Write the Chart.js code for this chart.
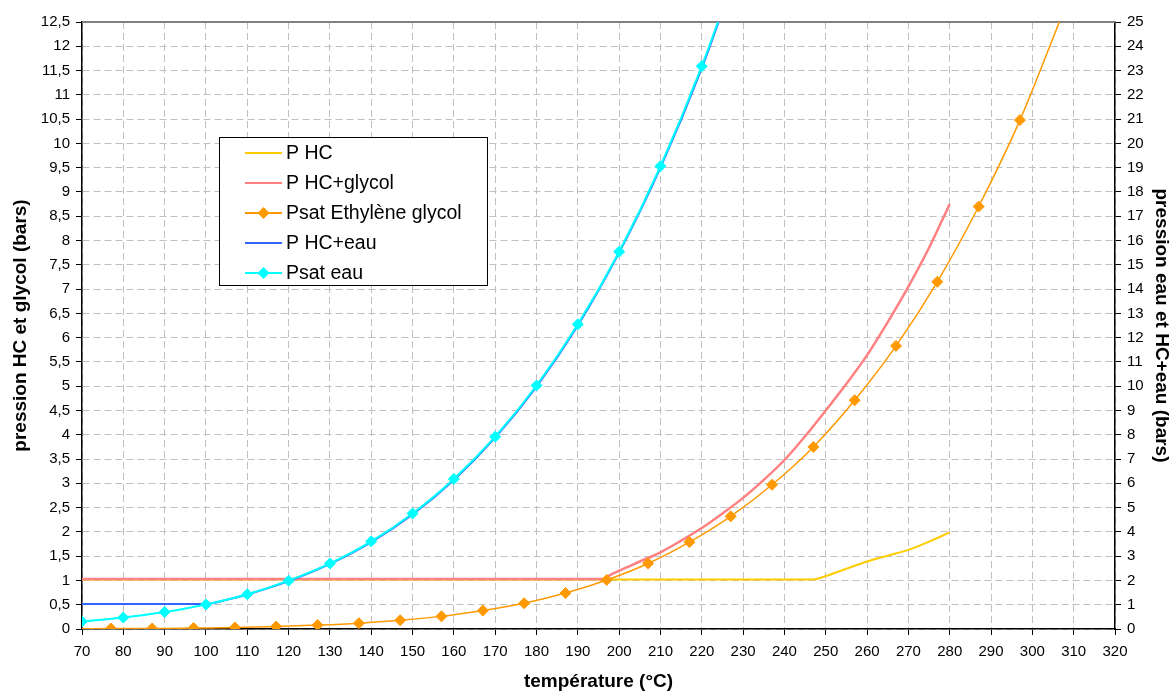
<!DOCTYPE html>
<html>
<head>
<meta charset="utf-8">
<script src="https://cdn.jsdelivr.net/npm/chart.js@4.4.1/dist/chart.umd.min.js"></script>
<style>
  body { margin: 0; background: #fff; }
  #wrap { width: 1174px; height: 693px; position: relative; }
</style>
</head>
<body>
<div id="wrap"><canvas id="pressure-chart"></canvas></div>
<script>
// températures (°C) et pressions (bars)
var hcTemp = [70, 247, 250, 255, 260, 265, 270, 275, 280];
var hcPres = [1.02, 1.02, 1.09, 1.24, 1.39, 1.51, 1.63, 1.80, 1.99];

var hcGlycolTemp = [70, 196, 198, 200, 205, 210, 215, 220, 225, 230, 235, 240, 245, 250, 255, 260, 265, 270, 275, 280];
var hcGlycolPres = [1.03, 1.03, 1.12, 1.20, 1.39, 1.58, 1.82, 2.08, 2.38, 2.70, 3.07, 3.48, 3.97, 4.50, 5.05, 5.64, 6.32, 7.05, 7.85, 8.75];

var glycolTemp = [70, 77, 87, 97, 107, 117, 127, 137, 147, 157, 167, 177, 187, 197, 207, 217, 227, 237, 247, 257, 267, 277, 287, 297, 307];
var glycolPres = [0.005, 0.01, 0.01, 0.02, 0.03, 0.05, 0.08, 0.12, 0.18, 0.26, 0.38, 0.53, 0.74, 1.01, 1.35, 1.79, 2.32, 2.97, 3.75, 4.71, 5.83, 7.15, 8.70, 10.48, 12.6];

// right axis (eau)
var hcWaterTemp = [70, 100, 105, 110, 120, 130, 140, 150, 160, 170, 180, 190, 200, 210, 220, 230];
var hcWaterPres = [1.03, 1.03, 1.2, 1.42, 1.97, 2.68, 3.58, 4.72, 6.14, 7.88, 9.98, 12.5, 15.5, 19.0, 23.1, 27.9];

var waterTemp = [70, 80, 90, 100, 110, 120, 130, 140, 150, 160, 170, 180, 190, 200, 210, 220, 230];
var waterPres = [0.31, 0.47, 0.70, 1.01, 1.43, 1.99, 2.70, 3.61, 4.76, 6.18, 7.92, 10.03, 12.55, 15.54, 19.06, 23.18, 27.97];

var xTicks = { min: 70, max: 320, step: 10 };

function pts(xs, ys) {
  return xs.map(function (x, i) { return { x: x, y: ys[i] }; });
}

var FONT = "'Liberation Sans', Arial, sans-serif";

// legend drawn inside the plot, like the Excel one
var legendBox = {
  id: 'legendBox',
  afterDraw: function (chart) {
    var ctx = chart.ctx;
    ctx.save();
    ctx.fillStyle = '#fff';
    ctx.fillRect(219.5, 137.5, 268, 148);
    ctx.strokeStyle = '#000';
    ctx.lineWidth = 1;
    ctx.strokeRect(219.5, 137.5, 268, 148);
    chart.data.datasets.forEach(function (ds, i) {
      var y = 153 + i * 30;
      ctx.strokeStyle = ds.borderColor;
      ctx.lineWidth = 2;
      ctx.beginPath();
      ctx.moveTo(245, y);
      ctx.lineTo(282, y);
      ctx.stroke();
      if (ds.marker) {
        ctx.fillStyle = ds.borderColor;
        ctx.beginPath();
        ctx.moveTo(263.5, y - 6);
        ctx.lineTo(269.5, y);
        ctx.lineTo(263.5, y + 6);
        ctx.lineTo(257.5, y);
        ctx.closePath();
        ctx.fill();
      }
      ctx.fillStyle = '#000';
      ctx.font = '19.5px ' + FONT;
      ctx.textBaseline = 'middle';
      ctx.fillText(ds.label, 286, y + 1);
    });
    ctx.restore();
  }
};

// solid grey top edge of the plot area
var topEdge = {
  id: 'topEdge',
  beforeDatasetsDraw: function (chart) {
    var a = chart.chartArea, ctx = chart.ctx;
    ctx.save();
    ctx.strokeStyle = '#808080';
    ctx.lineWidth = 2;
    ctx.beginPath();
    ctx.moveTo(a.left, a.top);
    ctx.lineTo(a.right, a.top);
    ctx.stroke();
    ctx.restore();
  }
};

function markers(first, last) {
  return function (c) { return (c.dataIndex < first || c.dataIndex > last) ? 0 : 5.5; };
}

new Chart('pressure-chart', {
  type: 'line',
  data: {
    datasets: [
      {
        label: 'P HC',
        data: pts(hcTemp, hcPres),
        borderColor: '#FFCC00',
        borderWidth: 2,
        pointRadius: 0,
        yAxisID: 'y',
        order: 5,
      },
      {
        label: 'P HC+glycol',
        data: pts(hcGlycolTemp, hcGlycolPres),
        borderColor: '#FF8080',
        borderWidth: 2.5,
        pointRadius: 0,
        yAxisID: 'y',
        order: 4,
      },
      {
        label: 'Psat Ethylène glycol',
        data: pts(glycolTemp, glycolPres),
        borderColor: '#FF9900',
        backgroundColor: '#FF9900',
        borderWidth: 1.5,
        pointStyle: 'rectRot',
        pointRadius: markers(1, glycolTemp.length - 2),
        pointBorderWidth: 1,
        marker: true,
        yAxisID: 'y',
        order: 3,
      },
      {
        label: 'P HC+eau',
        data: pts(hcWaterTemp, hcWaterPres),
        borderColor: '#3366FF',
        borderWidth: 2,
        pointRadius: 0,
        yAxisID: 'y2',
        order: 2,
      },
      {
        label: 'Psat eau',
        data: pts(waterTemp, waterPres),
        borderColor: '#00FFFF',
        backgroundColor: '#00FFFF',
        borderWidth: 2,
        pointStyle: 'rectRot',
        pointRadius: markers(0, waterTemp.length - 2),
        pointBorderWidth: 1,
        marker: true,
        yAxisID: 'y2',
        order: 1,
      },
    ],
  },
  options: {
    responsive: true,
    maintainAspectRatio: false,
    animation: false,
    cubicInterpolationMode: 'monotone',
    layout: { padding: { top: 22, left: 0, right: 0, bottom: 0 } },
    plugins: {
      legend: { display: false },
      tooltip: { enabled: false },
    },
    scales: {
      x: {
        type: 'linear',
        min: xTicks.min,
        max: xTicks.max,
        ticks: { stepSize: xTicks.step, color: '#000', font: { family: FONT, size: 15 }, padding: 8, maxRotation: 0 },
        grid: { color: '#C0C0C0', tickColor: '#000', tickLength: 6 },
        border: { color: '#000', width: 1.5, dash: [7, 4] },
        title: { display: true, text: 'température (°C)', color: '#000', font: { family: FONT, size: 19, weight: 'bold' }, padding: { top: 0, bottom: 0 } },
        afterFit: function (s) { s.height = 64; },
      },
      y: {
        position: 'left',
        min: 0,
        max: 12.5,
        ticks: {
          stepSize: 0.5,
          color: '#000',
          font: { family: FONT, size: 15 },
          padding: 6,
          callback: function (v) { return String(v).replace('.', ','); },
        },
        grid: { color: '#C0C0C0', tickColor: '#000', tickLength: 6 },
        border: { color: '#000', width: 1.5, dash: [7, 4] },
        title: { display: true, text: 'pression HC et glycol (bars)', color: '#000', font: { family: FONT, size: 19, weight: 'bold' }, padding: { top: 9, bottom: 0 } },
        afterFit: function (s) { s.width = 82; },
      },
      y2: {
        position: 'right',
        min: 0,
        max: 25,
        ticks: { stepSize: 1, color: '#000', font: { family: FONT, size: 15 }, padding: 6 },
        grid: { drawOnChartArea: false, tickColor: '#000', tickLength: 6 },
        border: { color: '#000', width: 1.5 },
        title: { display: true, text: 'pression eau et HC+eau (bars)', color: '#000', font: { family: FONT, size: 19, weight: 'bold' }, padding: { top: 1, bottom: 0 } },
        afterFit: function (s) { s.width = 59; },
      },
    },
  },
  plugins: [topEdge, legendBox],
});
</script>
</body>
</html>
